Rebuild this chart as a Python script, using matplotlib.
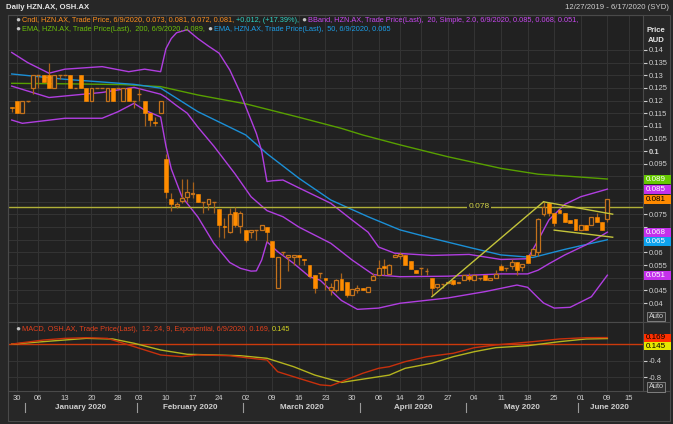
import numpy as np
import pandas as pd
import matplotlib
matplotlib.use('Agg')
import matplotlib.pyplot as plt
from matplotlib.patches import Rectangle
from matplotlib.transforms import blended_transform_factory

# ---- HZN.AX daily candles, 27 Dec 2019 - 9 Jun 2020
holidays = ['2020-01-01', '2020-01-27', '2020-04-10', '2020-04-13', '2020-06-08']

opens = [0.1175, 0.120, 0.115, 0.120, 0.125, 0.130, 0.130, 0.130, 0.125, 0.130,
         0.130, 0.130, 0.125, 0.130, 0.125, 0.120, 0.125, 0.125, 0.120, 0.125,
         0.125, 0.120, 0.125, 0.120, 0.1225, 0.120, 0.115, 0.1115, 0.115, 0.097,
         0.081, 0.0785, 0.0805, 0.082, 0.083, 0.083, 0.080, 0.079, 0.080, 0.077,
         0.0705, 0.068, 0.076, 0.0705, 0.069, 0.068, 0.069, 0.069, 0.070, 0.0645,
         0.046, 0.060, 0.058, 0.058, 0.059, 0.0572, 0.055, 0.051, 0.052, 0.050,
         0.045, 0.045, 0.0495, 0.0485, 0.0432, 0.045, 0.046, 0.0442, 0.049, 0.051,
         0.0545, 0.0515, 0.058, 0.0585, 0.059, 0.0565, 0.053, 0.054, 0.0525, 0.050,
         0.0465, 0.0475, 0.048, 0.049, 0.048, 0.049, 0.0505, 0.049, 0.050, 0.051,
         0.049, 0.050, 0.0545, 0.0538, 0.0547, 0.0563, 0.0543, 0.059, 0.059, 0.060,
         0.075, 0.0797, 0.0757, 0.0767, 0.0757, 0.0728, 0.073, 0.069, 0.071, 0.071,
         0.074, 0.072, 0.073]
highs = [0.1175, 0.120, 0.120, 0.120, 0.130, 0.130, 0.130, 0.135, 0.130, 0.130,
         0.130, 0.130, 0.125, 0.130, 0.125, 0.125, 0.125, 0.125, 0.125, 0.125,
         0.125, 0.125, 0.125, 0.120, 0.125, 0.120, 0.115, 0.1135, 0.120, 0.099,
         0.0833, 0.080, 0.089, 0.089, 0.088, 0.083, 0.080, 0.081, 0.080, 0.077,
         0.0735, 0.0775, 0.078, 0.0765, 0.069, 0.069, 0.069, 0.071, 0.070, 0.0645,
         0.058, 0.060, 0.059, 0.059, 0.059, 0.0574, 0.055, 0.051, 0.052, 0.050,
         0.048, 0.0495, 0.0517, 0.0485, 0.0454, 0.047, 0.046, 0.0465, 0.052, 0.057,
         0.0575, 0.0555, 0.0595, 0.060, 0.059, 0.0565, 0.053, 0.054, 0.054, 0.050,
         0.0475, 0.0475, 0.0485, 0.049, 0.0483, 0.051, 0.052, 0.051, 0.050, 0.051,
         0.050, 0.053, 0.0555, 0.0538, 0.0575, 0.0563, 0.0556, 0.059, 0.0612, 0.0735,
         0.080, 0.080, 0.0757, 0.0767, 0.0757, 0.0728, 0.073, 0.071, 0.071, 0.074,
         0.0755, 0.072, 0.081]
lows = [0.1155, 0.115, 0.115, 0.1195, 0.1225, 0.125, 0.1275, 0.125, 0.125, 0.1285,
        0.130, 0.125, 0.125, 0.125, 0.120, 0.120, 0.125, 0.125, 0.120, 0.120,
        0.125, 0.120, 0.120, 0.117, 0.120, 0.110, 0.110, 0.110, 0.115, 0.0815,
        0.0762, 0.0775, 0.0795, 0.080, 0.0815, 0.080, 0.0755, 0.0767, 0.0755, 0.066,
        0.0655, 0.0675, 0.070, 0.0675, 0.064, 0.0655, 0.065, 0.069, 0.064, 0.058,
        0.046, 0.059, 0.0525, 0.055, 0.055, 0.055, 0.050, 0.044, 0.050, 0.045,
        0.0432, 0.0445, 0.045, 0.0425, 0.0432, 0.044, 0.045, 0.0442, 0.049, 0.051,
        0.051, 0.0515, 0.058, 0.0575, 0.055, 0.0535, 0.052, 0.051, 0.051, 0.043,
        0.0455, 0.046, 0.048, 0.047, 0.048, 0.049, 0.0488, 0.049, 0.049, 0.049,
        0.049, 0.050, 0.053, 0.0525, 0.0535, 0.051, 0.0525, 0.056, 0.059, 0.0585,
        0.0745, 0.0745, 0.0705, 0.0755, 0.072, 0.0715, 0.069, 0.069, 0.069, 0.071,
        0.072, 0.069, 0.072]
closes = [0.117, 0.115, 0.120, 0.120, 0.130, 0.130, 0.1275, 0.125, 0.130, 0.130,
          0.130, 0.125, 0.125, 0.125, 0.120, 0.125, 0.125, 0.125, 0.125, 0.120,
          0.125, 0.125, 0.120, 0.120, 0.1225, 0.115, 0.1125, 0.111, 0.120, 0.084,
          0.079, 0.079, 0.0815, 0.084, 0.0835, 0.080, 0.080, 0.081, 0.080, 0.071,
          0.070, 0.075, 0.071, 0.0755, 0.065, 0.069, 0.069, 0.071, 0.068, 0.058,
          0.058, 0.060, 0.059, 0.059, 0.058, 0.057, 0.0505, 0.046, 0.052, 0.049,
          0.0465, 0.049, 0.045, 0.043, 0.0454, 0.046, 0.045, 0.0465, 0.0505, 0.054,
          0.054, 0.055, 0.059, 0.0595, 0.055, 0.0535, 0.052, 0.054, 0.0525, 0.046,
          0.0475, 0.0475, 0.0485, 0.0475, 0.0483, 0.051, 0.0495, 0.051, 0.050, 0.049,
          0.050, 0.0515, 0.053, 0.0538, 0.0563, 0.053, 0.0556, 0.056, 0.0612, 0.073,
          0.078, 0.0755, 0.0715, 0.0755, 0.072, 0.0715, 0.069, 0.071, 0.069, 0.074,
          0.072, 0.069, 0.081]

# indicator lines, sampled off the chart
ema200_dates = ['2019-12-27', '2020-01-14', '2020-01-29', '2020-02-07', '2020-02-18', '2020-03-02',
                '2020-03-16', '2020-03-26', '2020-04-01', '2020-04-14', '2020-04-27', '2020-05-11',
                '2020-05-20', '2020-05-27', '2020-06-09']
ema200_vals = [0.1268, 0.1266, 0.1263, 0.1255, 0.1222, 0.1187, 0.1134, 0.109, 0.1064, 0.1025,
               0.0978, 0.0932, 0.0909, 0.0902, 0.089]

ema50_dates = ['2019-12-27', '2020-01-13', '2020-01-31', '2020-02-07', '2020-02-18', '2020-03-02',
               '2020-03-06', '2020-03-16', '2020-03-24', '2020-04-02', '2020-04-14', '2020-04-22',
               '2020-05-01', '2020-05-11', '2020-05-19', '2020-05-27', '2020-06-09']
ema50_vals = [0.1305, 0.1284, 0.1264, 0.1249, 0.1156, 0.1064, 0.099, 0.0893, 0.0807, 0.0741,
              0.0689, 0.0656, 0.062, 0.059, 0.058, 0.0612, 0.065]

bb_up_dates = ['2019-12-27', '2020-01-02', '2020-01-08', '2020-01-13', '2020-01-22', '2020-01-30',
               '2020-02-04', '2020-02-07', '2020-02-10', '2020-02-11', '2020-02-12', '2020-02-14',
               '2020-02-18', '2020-02-20', '2020-02-24', '2020-02-26', '2020-02-28', '2020-03-02',
               '2020-03-04', '2020-03-05', '2020-03-06', '2020-03-09', '2020-03-11', '2020-03-16',
               '2020-03-24', '2020-03-30', '2020-04-02', '2020-04-06', '2020-04-09', '2020-04-22',
               '2020-05-01', '2020-05-11', '2020-05-18', '2020-05-20', '2020-05-22', '2020-05-27',
               '2020-06-01', '2020-06-09']
bb_up_vals = [0.139, 0.135, 0.1308, 0.1324, 0.1334, 0.1314, 0.1324, 0.1314, 0.1405, 0.1445,
              0.1468, 0.148, 0.1445, 0.1415, 0.1387, 0.1321, 0.123, 0.1176, 0.107, 0.100,
              0.088, 0.0883, 0.0886, 0.0855, 0.0794, 0.0728, 0.068, 0.0621, 0.0597, 0.0588,
              0.0592, 0.0572, 0.0575, 0.0649, 0.0728, 0.079, 0.082, 0.085]

bb_mid_dates = ['2019-12-27', '2020-01-08', '2020-01-22', '2020-01-31', '2020-02-07', '2020-02-10',
                '2020-02-12', '2020-02-14', '2020-02-18', '2020-02-21', '2020-02-27', '2020-03-03',
                '2020-03-06', '2020-03-11', '2020-03-16', '2020-03-24', '2020-03-30', '2020-04-03',
                '2020-04-14', '2020-04-27', '2020-05-11', '2020-05-18', '2020-05-20', '2020-05-22',
                '2020-05-27', '2020-06-02', '2020-06-09']
bb_mid_vals = [0.1257, 0.1212, 0.1232, 0.1252, 0.1225, 0.1212, 0.118, 0.115, 0.1095, 0.102,
               0.091, 0.082, 0.0765, 0.0741, 0.070, 0.0636, 0.057, 0.0512, 0.0504, 0.0506,
               0.0515, 0.0515, 0.053, 0.0555, 0.059, 0.063, 0.068]

bb_lo_dates = ['2019-12-27', '2019-12-31', '2020-01-13', '2020-01-22', '2020-01-28', '2020-01-31',
               '2020-02-04', '2020-02-07', '2020-02-10', '2020-02-11', '2020-02-13', '2020-02-18',
               '2020-02-21', '2020-02-26', '2020-02-28', '2020-03-03', '2020-03-04', '2020-03-05',
               '2020-03-06', '2020-03-10', '2020-03-13', '2020-03-18', '2020-03-20', '2020-03-26',
               '2020-03-31', '2020-04-06', '2020-04-14', '2020-04-27', '2020-05-06', '2020-05-14',
               '2020-05-18', '2020-05-20', '2020-05-21', '2020-05-25', '2020-05-28', '2020-06-03',
               '2020-06-09']
bb_lo_vals = [0.1123, 0.111, 0.113, 0.113, 0.1156, 0.1189, 0.1162, 0.1135, 0.102, 0.093,
              0.082, 0.074, 0.0636, 0.056, 0.0537, 0.0526, 0.0527, 0.057, 0.0642, 0.0603,
              0.0557, 0.0504, 0.049, 0.041, 0.0375, 0.038, 0.0399, 0.042, 0.0445, 0.0471,
              0.0462, 0.042, 0.040, 0.038, 0.0383, 0.0425, 0.051]

# drawn trend lines and the 0.078 level
level_line = 0.078
trend_up_dates = ['2020-04-22', '2020-05-21']
trend_up_vals = [0.0425, 0.080]
trend_top_dates = ['2020-05-21', '2020-06-10']
trend_top_vals = [0.080, 0.0751]
trend_bot_dates = ['2020-05-25', '2020-06-10']
trend_bot_vals = [0.0688, 0.066]

# OSH.AX MACD (12, 24, 9)
macd_dates = ['2019-12-27', '2020-01-07', '2020-01-13', '2020-01-17', '2020-01-23', '2020-01-29',
              '2020-02-03', '2020-02-07', '2020-02-13', '2020-02-18', '2020-02-26', '2020-03-03',
              '2020-03-06', '2020-03-10', '2020-03-16', '2020-03-20', '2020-03-24', '2020-03-26',
              '2020-04-01', '2020-04-06', '2020-04-08', '2020-04-15', '2020-04-21', '2020-04-28',
              '2020-05-04', '2020-05-08', '2020-05-19', '2020-05-26', '2020-06-02', '2020-06-09']
macd_vals = [0.01, 0.11, 0.15, 0.167, 0.15, 0.03, -0.093, -0.257, -0.30, -0.257,
             -0.275, -0.338, -0.38, -0.667, -0.83, -0.99, -1.01, -0.91, -0.706, -0.583,
             -0.544, -0.42, -0.30, -0.216, -0.078, -0.012, 0.069, 0.135, 0.167, 0.169]
signal_dates = ['2019-12-27', '2020-01-07', '2020-01-17', '2020-01-24', '2020-01-31', '2020-02-07',
                '2020-02-14', '2020-02-21', '2020-02-28', '2020-03-06', '2020-03-13', '2020-03-19',
                '2020-03-26', '2020-04-01', '2020-04-08', '2020-04-15', '2020-04-22', '2020-04-28',
                '2020-05-04', '2020-05-08', '2020-05-18', '2020-05-26', '2020-06-02', '2020-06-09']
signal_vals = [0.01, 0.07, 0.15, 0.135, 0.03, -0.135, -0.24, -0.257, -0.275, -0.338,
               -0.544, -0.75, -0.93, -0.85, -0.75, -0.583, -0.46, -0.30, -0.176, -0.078,
               -0.03, 0.069, 0.135, 0.145]

tick_dates = ['2019-12-30', '2020-01-06', '2020-01-13', '2020-01-20', '2020-01-28', '2020-02-03',
              '2020-02-10', '2020-02-17', '2020-02-24', '2020-03-02', '2020-03-09', '2020-03-16',
              '2020-03-23', '2020-03-30', '2020-04-06', '2020-04-14', '2020-04-20', '2020-04-27',
              '2020-05-04', '2020-05-11', '2020-05-18', '2020-05-25', '2020-06-01', '2020-06-09',
              '2020-06-15']
month_starts = ['2020-01-02', '2020-02-03', '2020-03-02', '2020-04-01', '2020-05-01', '2020-06-01']
month_names = ['January 2020', 'February 2020', 'March 2020', 'April 2020', 'May 2020', 'June 2020']

# ---- style
W, H = 673, 424
BG = '#272727'
PANEL = '#212121'
GRID = '#333333'
FRAME = '#4a4a4a'
TXT = '#cfcfcf'
ORANGE = '#ff8c00'
HOLLOW = '#c4721c'
WICK = '#a8621c'
PURPLE = '#b03ee0'
BLUE = '#1b8fd6'
GREEN = '#58a000'
YEL = '#c4c43a'

plt.rcParams['font.family'] = ['Liberation Sans', 'DejaVu Sans']

days = pd.bdate_range('2019-12-27', '2020-06-17')
days = days[~days.isin(pd.to_datetime(holidays))]
pos = {d.strftime('%Y-%m-%d'): n for n, d in enumerate(days)}


def xs(dates):
    return [pos[d] for d in dates]


def fx(px):
    return px / W


def fy(py):
    return 1 - py / H


fig = plt.figure(figsize=(W / 100, H / 100), dpi=100, facecolor=BG)
ax = fig.add_axes([fx(8), fy(322), fx(643) - fx(8), fy(15) - fy(322)], facecolor=PANEL)
ax2 = fig.add_axes([fx(8), fy(391), fx(643) - fx(8), fy(322) - fy(391)], facecolor=PANEL)

xl = (-0.7, 118.7)
tpos = xs(tick_dates)
for a in (ax, ax2):
    a.set_xlim(*xl)
    for s in a.spines.values():
        s.set_color(FRAME)
        s.set_linewidth(0.8)
    a.set_xticks(tpos)
    a.grid(color=GRID, lw=0.8)
    a.set_axisbelow(True)
    a.yaxis.tick_right()

ax.set_ylim(0.0325, 0.1538)
ax2.set_ylim(-1.14, 0.551)


# ---- value tags on the right axis (positions worked out first so tick labels under them can be hidden)
def tag_rows(axis, items, gap):
    rows, last = [], -1e9
    for val, fc, tc in items:
        ypx = H - axis.transData.transform((0, val))[1]
        ypx = max(ypx, last + gap)
        last = ypx
        rows.append((ypx, val, fc, tc))
    return rows


price_tags = tag_rows(ax, [(ema200_vals[-1], '#66c800', 'white'), (bb_up_vals[-1], '#c431ec', 'white'),
                           (closes[-1], '#ff8a00', 'black'), (bb_mid_vals[-1], '#c431ec', 'white'),
                           (ema50_vals[-1], '#0ea2ee', 'white'), (bb_lo_vals[-1], '#c431ec', 'white')], 9)
macd_tags = tag_rows(ax2, [(macd_vals[-1], '#ff3000', 'black'), (signal_vals[-1], '#e6e600', 'black')], 8.5)

# ---- price panel
yt = np.round(np.arange(0.04, 0.1401, 0.005), 3)
ylab = []
for v in yt:
    ypx = H - ax.transData.transform((0, v))[1]
    hidden = any(abs(ypx - t[0]) < 8 for t in price_tags)
    ylab.append('' if hidden else f'{v:g}')
ax.set_yticks(yt, ylab)
ax.tick_params(axis='x', length=0, labelbottom=False)
ax.tick_params(axis='y', colors=TXT, labelsize=5.5, length=3, width=0.8, pad=1)
for tl in ax.get_yticklabels():
    tl.set_color(TXT)
    if tl.get_text() == '0.1':
        tl.set_fontweight('bold')

o, h, l, c = map(np.array, (opens, highs, lows, closes))
k = np.arange(len(o))
up = c > o + 1e-9
dn = c < o - 1e-9
flat = ~(up | dn)
ax.vlines(k, l, h, color=WICK, lw=0.9, zorder=3)
ax.bar(k[dn], (o - c)[dn], bottom=c[dn], width=0.72, color=ORANGE, ec=ORANGE, lw=0.4, zorder=4)
ax.bar(k[up], (c - o)[up], bottom=o[up], width=0.72, fc=PANEL, ec=HOLLOW, lw=0.9, zorder=4)
ax.hlines(o[flat], k[flat] - 0.36, k[flat] + 0.36, color=HOLLOW, lw=1.0, zorder=4)

ax.plot(xs(ema200_dates), ema200_vals, color=GREEN, lw=1.0, zorder=2)
ax.plot(xs(ema50_dates), ema50_vals, color=BLUE, lw=1.0, zorder=2)
for d, v in ((bb_up_dates, bb_up_vals), (bb_mid_dates, bb_mid_vals), (bb_lo_dates, bb_lo_vals)):
    ax.plot(xs(d), v, color=PURPLE, lw=1.0, zorder=2)

ax.axhline(level_line, color='#b0b038', lw=1.0, zorder=2.5)
ax.text(0.742, level_line, f'{level_line:.3f}', transform=blended_transform_factory(ax.transAxes, ax.transData),
        ha='center', va='center', fontsize=6, color='#d4d448',
        bbox=dict(fc=PANEL, ec='none', pad=1.2), zorder=5)
for d, v in ((trend_up_dates, trend_up_vals), (trend_top_dates, trend_top_vals),
             (trend_bot_dates, trend_bot_vals)):
    ax.plot(xs(d), v, color=YEL, lw=1.0, zorder=5)

# ---- MACD panel
ax2.set_yticks([-0.8, -0.4], ['-0.8', '-0.4'])
ax2.tick_params(axis='y', colors=TXT, labelsize=5.5, length=3, width=0.8, pad=1)
ax2.set_xticks(tpos, [d[-2:] for d in tick_dates])
ax2.tick_params(axis='x', length=0, pad=3, labelsize=5.5, labelcolor=TXT)
ax2.axhline(0, color='#cc3a0c', lw=1.0, zorder=2)
ax2.plot(xs(signal_dates), signal_vals, color='#b4b41e', lw=1.0, zorder=3)
ax2.plot(xs(macd_dates), macd_vals, color='#c8300c', lw=1.0, zorder=3)

# month band under the dates
tr = blended_transform_factory(ax2.transData, ax2.transAxes)
ms = xs(month_starts) + [xl[1]]
for n, name in enumerate(month_names):
    ax2.plot([ms[n] - 0.5] * 2, [-0.17, -0.30], transform=tr, color='#9a9a9a', lw=0.8, clip_on=False)
    ax2.text((ms[n] + ms[n + 1]) / 2 - 0.5, -0.24, name, transform=tr, ha='center', va='center',
             fontsize=5.8, fontweight='bold', color=TXT)

# draw the tags
for rows, hgt in ((price_tags, 9), (macd_tags, 8)):
    for ypx, val, fc, tc in rows:
        fig.add_artist(Rectangle((fx(643.5), fy(ypx + hgt / 2)), fx(27), hgt / H,
                                 transform=fig.transFigure, fc=fc, ec='none', zorder=10))
        fig.text(fx(646), fy(ypx), f'{val:.3f}', fontsize=5.8, color=tc, ha='left', va='center', zorder=11)

# ---- frame, headers, legends
fig.add_artist(Rectangle((fx(8), fy(421)), fx(670) - fx(8), fy(15) - fy(421), transform=fig.transFigure,
                         fill=False, ec=FRAME, lw=0.8))
for yy in (322, 391):
    fig.add_artist(plt.Line2D([fx(643), fx(670)], [fy(yy), fy(yy)], color=FRAME, lw=0.8))

fig.text(fx(6), fy(7.5), 'Daily HZN.AX, OSH.AX', fontsize=5.6, fontweight='bold', color='#e6e6e6', va='center')
fig.text(fx(669), fy(7.5), '12/27/2019 - 6/17/2020 (SYD)', fontsize=5.6, color=TXT, ha='right', va='center')
fig.text(fx(656), fy(31), 'Price', fontsize=5.6, fontweight='bold', color='#e6e6e6', ha='center', va='center')
fig.text(fx(656), fy(41), 'AUD', fontsize=5.6, fontweight='bold', color='#e6e6e6', ha='center', va='center')
for yy in (316.5, 387):
    fig.text(fx(656), fy(yy), 'Auto', fontsize=5.3, color=TXT, ha='center', va='center',
             bbox=dict(boxstyle='square,pad=0.15', fc='#303030', ec='#8c8c8c', lw=0.6))

rend = fig.canvas.get_renderer()


def text_row(x, y, parts, size=5.3):
    for s, col in parts:
        if s == 'icon':
            t = fig.text(fx(x), fy(y), '\u25cf', color='#c4c4c4', fontsize=6, ha='left', va='center')
        else:
            t = fig.text(fx(x), fy(y), s, color=col, fontsize=size, ha='left', va='center')
        x += t.get_window_extent(rend).width + 2


chg = closes[-1] - closes[-2]
text_row(15, 20, [('icon', None),
                  (f'Cndl, HZN.AX, Trade Price, 6/9/2020, {opens[-1]:.3f}, {highs[-1]:.3f}, '
                   f'{lows[-1]:.3f}, {closes[-1]:.3f},', '#ff8f1f'),
                  (f'+{chg:.3f}, (+{chg / closes[-2] * 100:.2f}%),', '#2fd3c4'),
                  ('icon', None),
                  (f'BBand, HZN.AX, Trade Price(Last),  20, Simple, 2.0, 6/9/2020, {bb_up_vals[-1]:.3f}, '
                   f'{bb_mid_vals[-1]:.3f}, {bb_lo_vals[-1]:.3f},', '#c847f0')])
text_row(15, 29.5, [('icon', None),
                    (f'EMA, HZN.AX, Trade Price(Last),  200, 6/9/2020, {ema200_vals[-1]:.3f},', '#6cbf0a'),
                    ('icon', None),
                    (f'EMA, HZN.AX, Trade Price(Last),  50, 6/9/2020, {ema50_vals[-1]:.3f}', '#1c9ee8')])
text_row(15, 329.5, [('icon', None),
                     (f'MACD, OSH.AX, Trade Price(Last),  12, 24, 9, Exponential, 6/9/2020, {macd_vals[-1]:.3f},',
                      '#e0401c'),
                     (f'{signal_vals[-1]:.3f}', '#d4d422')])

fig.savefig('out.png', dpi=100, facecolor=BG)
